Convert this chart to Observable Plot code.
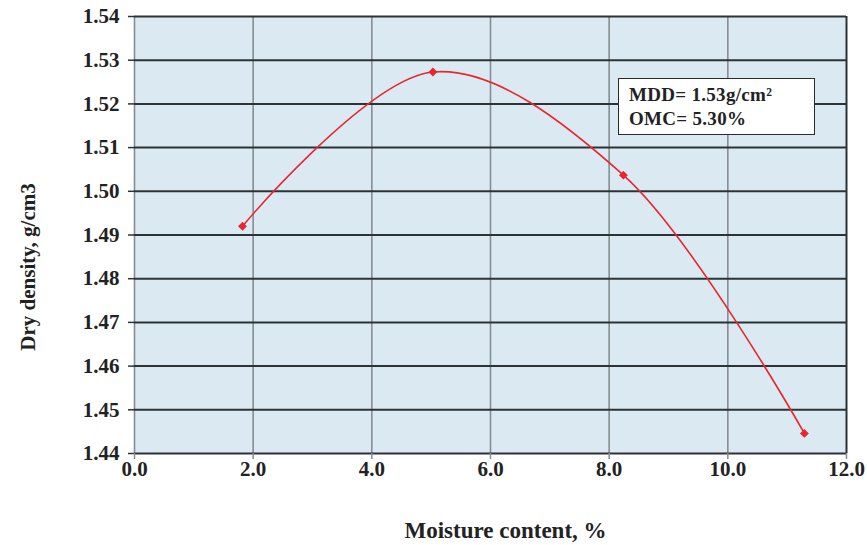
<!DOCTYPE html>
<html>
<head>
<meta charset="utf-8">
<script src="https://cdn.jsdelivr.net/npm/d3@7"></script>
<script src="https://cdn.jsdelivr.net/npm/@observablehq/plot@0.6"></script>
<style>
  body { margin: 0; background: #fff; }
  #chart { position: relative; width: 867px; height: 545px; }
  #note {
    position: absolute; left: 618px; top: 78px; width: 185px; height: 55px;
    background: #fff; border: 1.5px solid #2a2a2a; box-sizing: content-box;
    font-family: "Liberation Serif", "Times New Roman", serif; font-weight: bold;
    font-size: 19px; letter-spacing: 0.3px; color: #222; line-height: 24px; padding: 0 0 0 10px;
    display: flex; flex-direction: column; justify-content: center;
  }
</style>
</head>
<body>
<div id="chart"></div>
<script>
// Compaction test: moisture content (%) vs dry density (g/cm3)
const moisture = [1.82, 5.03, 8.24, 11.29];
const dryDensity = [1.492, 1.5273, 1.5037, 1.4446];
const xTicks = [0, 2, 4, 6, 8, 10, 12];
const yTicks = [1.44, 1.45, 1.46, 1.47, 1.48, 1.49, 1.50, 1.51, 1.52, 1.53, 1.54];
const noteLines = ["MDD= 1.53g/cm²", "OMC= 5.30%"];

const points = moisture.map((m, i) => ({m, d: dryDensity[i]}));
const serif = "'Liberation Serif', 'Times New Roman', serif";

const plot = Plot.plot({
  width: 867,
  height: 545,
  marginLeft: 134,
  marginRight: 21,
  marginTop: 16,
  marginBottom: 92,
  style: {fontFamily: serif, fontWeight: "bold", fontSize: "21px", color: "#222", background: "transparent"},
  x: {domain: [0, 12]},
  y: {domain: [1.44, 1.54]},
  marks: [
    Plot.frame({fill: "#dbeaf2", stroke: null}),
    Plot.gridX(xTicks.slice(0, -1), {stroke: "#858d93", strokeOpacity: 1, strokeWidth: 1.6}),
    Plot.ruleX([12], {stroke: "#2c3337", strokeWidth: 2}),
    Plot.gridY(yTicks, {stroke: "#2c3337", strokeOpacity: 1, strokeWidth: 2}),
    Plot.axisY(yTicks, {tickFormat: d3.format(".2f"), tickSize: 6, tickPadding: 9, stroke: "#2c3337", strokeWidth: 1.5, label: null, fontSize: 21, style: {letterSpacing: "1.5px"}}),
    Plot.axisX(xTicks, {tickFormat: d3.format(".1f"), tickSize: 6, tickPadding: 2, stroke: "#858d93", strokeWidth: 1.5, label: null, fontSize: 21, style: {letterSpacing: "1px"}}),
    Plot.text(["Moisture content, %"], {frameAnchor: "bottom", textAnchor: "middle", lineAnchor: "middle", dx: 15, dy: 77, fontSize: 23, fill: "#222", style: {letterSpacing: "0.6px"}}),
    Plot.text(["Dry density, g/cm3"], {frameAnchor: "left", textAnchor: "middle", lineAnchor: "middle", dx: -106, dy: 32, rotate: -90, fontSize: 21, fill: "#222", style: {letterSpacing: "0.6px"}}),
    Plot.line(points, {x: "m", y: "d", curve: "catmull-rom", stroke: "#e8262e", strokeWidth: 1.6}),
    Plot.dot(points, {x: "m", y: "d", symbol: "diamond2", r: 4, fill: "#e8262e", stroke: null})
  ]
});

const chart = document.getElementById("chart");
chart.appendChild(plot);
const note = document.createElement("div");
note.id = "note";
noteLines.forEach(t => { const s = document.createElement("div"); s.textContent = t; note.appendChild(s); });
chart.appendChild(note);
</script>
</body>
</html>
